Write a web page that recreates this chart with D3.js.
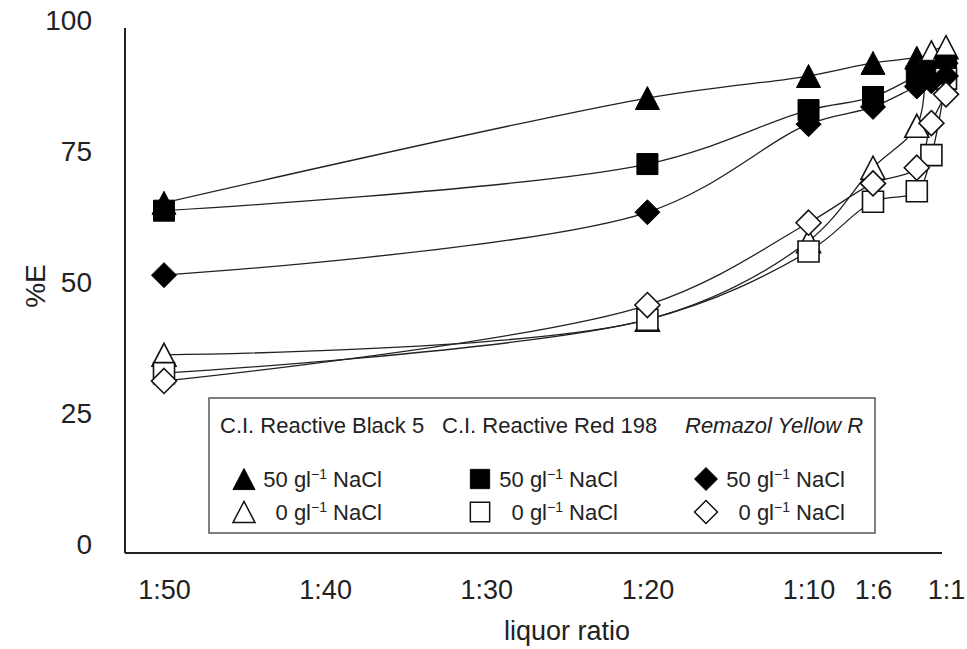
<!DOCTYPE html>
<html>
<head>
<meta charset="utf-8">
<script src="https://cdn.jsdelivr.net/npm/d3@7"></script>
<style>
  html, body { margin: 0; padding: 0; background: #fff; }
  svg { display: block; font-family: "Liberation Sans", Arial, sans-serif; }
</style>
</head>
<body>
<div id="chart"></div>
<script>
// % exhaustion vs liquor ratio, three dyes with / without salt

// liquor ratio 1:n (n values)
var ratios = [50, 20, 10, 6, 3, 2, 1];
var xTicks = [50, 40, 30, 20, 10, 6, 1];
var yTicks = [0, 25, 50, 75, 100];

// %E
var rb5Salt     = [65.3, 85.3, 89.5, 92.0, 93.0, 93.5, 94.0];
var rb5NoSalt   = [36.3, 43.0, 58.0, 72.0, 80.0, 94.0, 95.0];
var rr198Salt   = [63.8, 72.7, 83.0, 85.5, 89.5, 90.5, 91.5];
var rr198NoSalt = [32.8, 43.0, 56.0, 65.5, 67.5, 74.4, 89.0];
var ryrSalt     = [51.5, 63.5, 80.3, 83.6, 87.5, 88.5, 89.5];
var ryrNoSalt   = [31.3, 45.8, 61.5, 69.0, 72.0, 80.5, 86.0];

var series = [
    { values: rb5Salt,     shape: "triangle", filled: true },
    { values: rb5NoSalt,   shape: "triangle", filled: false },
    { values: rr198Salt,   shape: "square",   filled: true },
    { values: rr198NoSalt, shape: "square",   filled: false },
    { values: ryrSalt,     shape: "diamond",  filled: true },
    { values: ryrNoSalt,   shape: "diamond",  filled: false }
];

var legendCols = [
    { title: "C.I. Reactive Black 5", italic: false, shape: "triangle", x: 220, mx: 244, tx: 382 },
    { title: "C.I. Reactive Red 198", italic: false, shape: "square",   x: 442, mx: 480, tx: 618 },
    { title: "Remazol Yellow R",      italic: true,  shape: "diamond",  x: 685, mx: 706, tx: 845 }
];

var W = 967, H = 649;
var axisX = 125, axisY = 553;

var svg = d3.select("#chart").append("svg")
    .attr("width", W)
    .attr("height", H);

svg.append("rect").attr("width", W).attr("height", H).attr("fill", "#fff");

// x is linear in n but the last few ratios are squeezed together
var x = d3.scaleLinear()
    .domain([50, 6, 1])
    .range([164, 873, 946]);

var y = d3.scaleLinear()
    .domain([0, 100])
    .range([545, 21]);

// marker path, centred on 0,0
function markerPath(shape) {
    if (shape === "triangle") {
        var w = 12, h = 11.5;
        return "M0," + (-h) + "L" + w + "," + h + "L" + (-w) + "," + h + "Z";
    }
    if (shape === "square") {
        var s = 10.5;
        return "M" + (-s) + "," + (-s) + "H" + s + "V" + s + "H" + (-s) + "Z";
    }
    var d = 12.5;
    return "M0," + (-d) + "L" + d + ",0L0," + d + "L" + (-d) + ",0Z";
}

// smoothed connecting lines
var line = d3.line()
    .x(function(d, i) { return x(ratios[i]); })
    .y(function(d) { return y(d); })
    .curve(d3.curveCatmullRom.alpha(0.5));

series.forEach(function(s) {
    svg.append("path")
        .attr("d", line(s.values))
        .attr("fill", "none")
        .attr("stroke", "#222")
        .attr("stroke-width", 1.3);
});

// axes: no tick marks, just the two lines and labels
var yAxis = svg.append("g")
    .attr("transform", "translate(" + axisX + ",0)")
    .call(d3.axisLeft(y).tickValues(yTicks).tickSize(0).tickPadding(33));
yAxis.select(".domain").remove();
yAxis.selectAll("text")
    .attr("font-size", 28)
    .attr("fill", "#222")
    .attr("font-family", "Liberation Sans, Arial, sans-serif");

var xAxis = svg.append("g")
    .attr("transform", "translate(0," + axisY + ")")
    .call(d3.axisBottom(x).tickValues(xTicks).tickSize(0).tickPadding(27)
        .tickFormat(function(d) { return "1:" + d; }));
xAxis.select(".domain").remove();
xAxis.selectAll("text")
    .attr("font-size", 27)
    .attr("fill", "#222")
    .attr("font-family", "Liberation Sans, Arial, sans-serif");

svg.append("line")
    .attr("x1", axisX).attr("x2", axisX)
    .attr("y1", 28).attr("y2", axisY)
    .attr("stroke", "#222").attr("stroke-width", 2);
svg.append("line")
    .attr("x1", axisX).attr("x2", 942)
    .attr("y1", axisY).attr("y2", axisY)
    .attr("stroke", "#222").attr("stroke-width", 2);

svg.append("text")
    .attr("transform", "translate(45,286) rotate(-90)")
    .attr("text-anchor", "middle")
    .attr("font-size", 28)
    .attr("fill", "#222")
    .text("%E");

svg.append("text")
    .attr("x", 567).attr("y", 640)
    .attr("text-anchor", "middle")
    .attr("font-size", 27)
    .attr("fill", "#222")
    .text("liquor ratio");

// markers
series.forEach(function(s) {
    svg.append("g").selectAll("path")
        .data(s.values)
        .enter().append("path")
        .attr("transform", function(d, i) { return "translate(" + x(ratios[i]) + "," + y(d) + ")"; })
        .attr("d", markerPath(s.shape))
        .attr("fill", s.filled ? "#000" : "#fff")
        .attr("stroke", s.filled ? "#000" : "#111")
        .attr("stroke-width", s.filled ? 1 : 1.6);
});

// legend
var leg = svg.append("g");
leg.append("rect")
    .attr("x", 209).attr("y", 398)
    .attr("width", 666).attr("height", 135)
    .attr("fill", "#fff")
    .attr("stroke", "#555")
    .attr("stroke-width", 1.5);

legendCols.forEach(function(col) {
    leg.append("text")
        .attr("x", col.x).attr("y", 433)
        .attr("font-size", 22)
        .attr("font-style", col.italic ? "italic" : "normal")
        .attr("fill", "#222")
        .text(col.title);

    [{ filled: true, amount: "50", cy: 479 }, { filled: false, amount: "0", cy: 512 }].forEach(function(row) {
        leg.append("path")
            .attr("transform", "translate(" + col.mx + "," + row.cy + ") scale(0.92)")
            .attr("d", markerPath(col.shape))
            .attr("fill", row.filled ? "#000" : "#fff")
            .attr("stroke", row.filled ? "#000" : "#111")
            .attr("stroke-width", row.filled ? 1 : 1.6);

        var t = leg.append("text")
            .attr("x", col.tx).attr("y", row.cy + 8)
            .attr("text-anchor", "end")
            .attr("font-size", 22)
            .attr("fill", "#222");
        t.append("tspan").text(row.amount + " gl");
        t.append("tspan").attr("dy", -8).attr("font-size", 14).text("\u22121");
        t.append("tspan").attr("dy", 8).text(" NaCl");
    });
});
</script>
</body>
</html>
